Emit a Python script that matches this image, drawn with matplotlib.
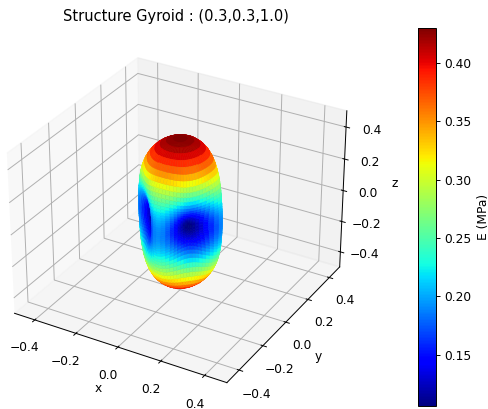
import numpy as np
import matplotlib
matplotlib.use("Agg")
import matplotlib.pyplot as plt
from matplotlib import cm
from matplotlib.colors import Normalize

TITLE = "Structure Gyroid : (0.3,0.3,1.0)"
TICKS = [-0.4, -0.2, 0.0, 0.2, 0.4]
CBAR_TICKS = [0.15, 0.20, 0.25, 0.30, 0.35, 0.40]
E_MIN, E_MAX = 0.106, 0.43
XY_GAIN, Z_GAIN = 1.025, 1.07

# polar angle (rows, 0-90 deg) and azimuth (columns, 0-45 deg)
POLAR_DEG = [0, 3.75, 7.5, 11.25, 15, 18.75, 22.5, 26.25, 30, 33.75, 37.5, 41.25, 45,
             48.75, 52.5, 56.25, 60, 63.75, 67.5, 71.25, 75, 78.75, 82.5, 86.25, 90]
AZIM_DEG = [0, 5, 10, 15, 20, 25, 30, 35, 40, 45]
E_TABLE = [
    [.430, .430, .430, .430, .430, .430, .430, .430, .430, .430],
    [.426, .426, .426, .426, .426, .426, .426, .426, .426, .426],
    [.418, .418, .418, .418, .418, .418, .418, .418, .418, .418],
    [.405, .405, .405, .404, .404, .404, .404, .404, .404, .404],
    [.388, .388, .388, .387, .387, .386, .386, .386, .385, .385],
    [.369, .369, .369, .368, .367, .366, .365, .364, .364, .363],
    [.350, .349, .348, .347, .345, .343, .342, .340, .339, .339],
    [.330, .329, .328, .326, .323, .320, .317, .315, .314, .313],
    [.311, .310, .308, .305, .301, .297, .293, .290, .288, .288],
    [.293, .292, .290, .285, .280, .275, .270, .266, .264, .263],
    [.277, .276, .272, .267, .260, .254, .248, .243, .240, .239],
    [.263, .261, .257, .250, .242, .234, .228, .222, .219, .218],
    [.250, .248, .243, .235, .226, .217, .209, .203, .200, .198],
    [.239, .237, .230, .221, .211, .201, .193, .186, .183, .181],
    [.229, .227, .219, .209, .198, .188, .179, .172, .168, .166],
    [.221, .218, .210, .199, .187, .175, .166, .159, .155, .153],
    [.214, .211, .202, .190, .177, .165, .155, .148, .144, .142],
    [.208, .204, .195, .182, .169, .156, .146, .139, .135, .133],
    [.203, .199, .189, .176, .162, .149, .139, .131, .127, .125],
    [.199, .195, .184, .170, .156, .143, .132, .125, .121, .119],
    [.196, .191, .181, .166, .151, .138, .128, .120, .116, .114],
    [.193, .189, .178, .163, .148, .134, .124, .116, .112, .111],
    [.191, .187, .176, .160, .145, .132, .121, .114, .110, .108],
    [.190, .186, .174, .159, .144, .130, .120, .112, .108, .107],
    [.190, .186, .174, .159, .143, .130, .119, .112, .107, .106],
]

plt.rcParams.update({
    "font.size": 8.8,
    "axes.linewidth": 0.7,
    "grid.linewidth": 0.7,
    "xtick.major.width": 0.7,
    "ytick.major.width": 0.7,
    "xtick.major.size": 3.1,
    "ytick.major.size": 3.1,
    "xtick.major.pad": 3.1,
    "ytick.major.pad": 3.1,
})

W, H = 489, 409
fig = plt.figure(figsize=(W / 100, H / 100), dpi=100)


def rect(x0, y0, x1, y1):
    return [x0 / W, 1 - y1 / H, (x1 - x0) / W, (y1 - y0) / H]


ax = fig.add_axes(rect(-14, 26.5, 364, 408.5), projection="3d")

table = np.array(E_TABLE)
# mirror the tabulated octant around the whole direction sphere
quarter = np.hstack([table, table[:, -2::-1]])
ring = np.hstack([quarter[:, :-1]] * 4 + [quarter[:, :1]])
full = np.vstack([ring, ring[-2::-1]])
polar = np.radians(np.r_[POLAR_DEG, 180 - np.array(POLAR_DEG[-2::-1])])
step = AZIM_DEG[1] - AZIM_DEG[0]
azim = np.radians(np.arange(full.shape[1]) * step - 180)
A, P = np.meshgrid(azim, polar)
x = XY_GAIN * full * np.sin(P) * np.cos(A)
y = XY_GAIN * full * np.sin(P) * np.sin(A)
z = Z_GAIN * full * np.cos(P)

norm = Normalize(E_MIN, E_MAX)
ax.plot_surface(x, y, z, rstride=1, cstride=1, facecolors=cm.jet(norm(full)),
                linewidth=0.4, antialiased=True, shade=False)
ax.set_xlim(-0.5, 0.5)
ax.set_ylim(-0.5, 0.5)
ax.set_zlim(-0.5, 0.5)
ax.set_xticks(TICKS)
ax.set_yticks(TICKS)
ax.set_zticks(TICKS)
ax.set_xlabel("x", labelpad=0.2)
ax.set_ylabel("y", labelpad=1)
ax.set_zlabel("z", labelpad=2)
fig.text(175.5 / W, 1 - 17 / H, TITLE, ha="center", va="center", fontsize=10.56)

cax = fig.add_axes(rect(418, 28, 436, 406))
cb = fig.colorbar(cm.ScalarMappable(norm=norm, cmap="jet"), cax=cax)
cb.set_ticks(CBAR_TICKS)
cb.set_label("E (MPa)")
fig.savefig("out.png", dpi=100)
